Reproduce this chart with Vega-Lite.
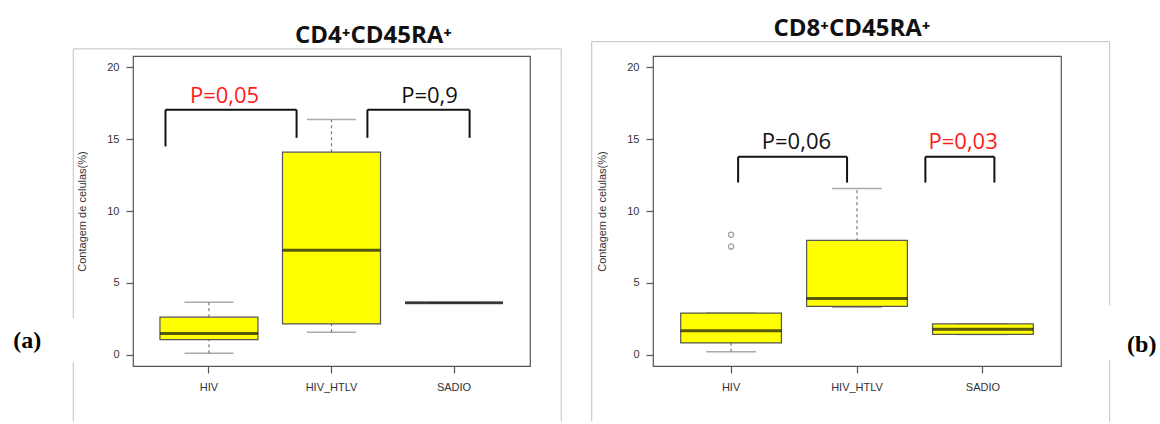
{
  "$schema": "https://vega.github.io/schema/vega-lite/v6.json",
  "padding": {"left": 12, "top": 16, "right": 0, "bottom": 0},
  "background": "white",
  "spacing": 27,
  "config": {
    "view": {"stroke": "#555555", "strokeWidth": 1.2},
    "font": "Liberation Sans",
    "axis": {"grid": false, "domain": false, "tickSize": 7, "tickColor": "#555555", "tickWidth": 1.2,
             "labelColor": "#333333", "labelFontSize": 11, "labelFont": "Liberation Sans",
             "titleFont": "Liberation Sans", "titleFontSize": 11, "titleFontWeight": "normal", "titleColor": "#333333"}
  },
  "datasets": {
    "boxA": [
      {"group": "HIV", "lower": 0.09, "q1": 1.04, "median": 1.46, "q3": 2.6, "upper": 3.64},
      {"group": "HIV_HTLV", "lower": 1.55, "q1": 2.13, "median": 7.27, "q3": 14.1, "upper": 16.37},
      {"group": "SADIO", "lower": 3.6, "q1": 3.6, "median": 3.6, "q3": 3.6, "upper": 3.6}
    ],
    "boxB": [
      {"group": "HIV", "lower": 0.19, "q1": 0.81, "median": 1.66, "q3": 2.89, "upper": 2.89},
      {"group": "HIV_HTLV", "lower": 3.3, "q1": 3.35, "median": 3.91, "q3": 7.95, "upper": 11.56},
      {"group": "SADIO", "lower": 1.4, "q1": 1.41, "median": 1.76, "q3": 2.13, "upper": 2.15}
    ],
    "outB": [
      {"group": "HIV", "value": 8.35},
      {"group": "HIV", "value": 7.52}
    ],
    "bracketA": [
      {"x": 0.645, "x2": 1.715, "y": 17.05, "y2": 17.05},
      {"x": 0.645, "x2": 0.645, "y": 17.05, "y2": 14.5},
      {"x": 1.715, "x2": 1.715, "y": 17.05, "y2": 15.1},
      {"x": 2.293, "x2": 3.127, "y": 17.05, "y2": 17.05},
      {"x": 2.293, "x2": 2.293, "y": 17.05, "y2": 15.1},
      {"x": 3.127, "x2": 3.127, "y": 17.05, "y2": 15.1}
    ],
    "bracketB": [
      {"x": 1.056, "x2": 1.921, "y": 13.78, "y2": 13.78},
      {"x": 1.056, "x2": 1.056, "y": 13.78, "y2": 11.98},
      {"x": 1.921, "x2": 1.921, "y": 13.78, "y2": 11.98},
      {"x": 2.543, "x2": 3.091, "y": 13.78, "y2": 13.78},
      {"x": 2.543, "x2": 2.543, "y": 13.78, "y2": 11.98},
      {"x": 3.091, "x2": 3.091, "y": 13.78, "y2": 11.98}
    ],
    "pA": [
      {"label": "P=0,05", "x": 1.127, "y": 18.0, "sig": "yes"},
      {"label": "P=0,9", "x": 2.8, "y": 18.0, "sig": "no"}
    ],
    "pB": [
      {"label": "P=0,06", "x": 1.519, "y": 14.8, "sig": "no"},
      {"label": "P=0,03", "x": 2.843, "y": 14.8, "sig": "yes"}
    ],
    "frameA": [
      {"x": -0.107, "x2": 3.875, "y": 21.3, "y2": 21.3},
      {"x": -0.107, "x2": -0.107, "y": 21.3, "y2": 2.53},
      {"x": -0.107, "x2": -0.107, "y": -0.53, "y2": -4.65},
      {"x": 3.875, "x2": 3.875, "y": 21.3, "y2": -4.65}
    ],
    "frameB": [
      {"x": -0.107, "x2": 4.006, "y": 21.8, "y2": 21.8},
      {"x": -0.107, "x2": -0.107, "y": 21.8, "y2": -4.67},
      {"x": 4.006, "x2": 4.006, "y": 21.8, "y2": 3.45},
      {"x": 4.006, "x2": 4.006, "y": -0.37, "y2": -4.67}
    ],
    "tagA": [{"label": "(a)", "x": -0.483, "y": 0.93}],
    "tagB": [{"label": "(b)", "x": 4.261, "y": 0.67}]
  },
  "hconcat": [
    {
      "width": 397,
      "height": 310,
      "title": {"text": "CD4⁺CD45RA⁺", "font": "Open Sans", "fontSize": 24, "fontWeight": "bold", "color": "#111111", "dx": 42, "frame": "group", "offset": 0},
      "resolve": {"scale": {"x": "independent"}},
      "layer": [
        {
          "data": {"name": "boxA"},
          "encoding": {
            "x": {"field": "group", "type": "nominal", "title": null,
                  "scale": {"type": "band", "paddingInner": 0.2, "paddingOuter": 0.22, "domain": ["HIV", "HIV_HTLV", "SADIO"]},
                  "axis": {"labelAngle": 0, "labelPadding": 8}},
            "y": {"type": "quantitative", "title": "Contagem de celulas(%)",
                  "scale": {"domain": [-0.8, 20.8], "nice": false, "zero": false},
                  "axis": {"values": [0, 5, 10, 15, 20], "labelPadding": 7, "titlePadding": 19}}
          },
          "layer": [
            {"mark": {"type": "rule", "color": "#777777", "strokeDash": [3, 3], "strokeWidth": 1.2},
             "encoding": {"y": {"field": "lower", "type": "quantitative", "title": "Contagem de celulas(%)"}, "y2": {"field": "upper"}}},
            {"mark": {"type": "tick", "color": "#888888", "size": 49, "thickness": 1.5},
             "encoding": {"y": {"field": "lower", "type": "quantitative", "title": "Contagem de celulas(%)"}}},
            {"mark": {"type": "tick", "color": "#888888", "size": 49, "thickness": 1.5},
             "encoding": {"y": {"field": "upper", "type": "quantitative", "title": "Contagem de celulas(%)"}}},
            {"mark": {"type": "bar", "color": "#ffff00", "stroke": "#555555", "strokeWidth": 1.2},
             "encoding": {"y": {"field": "q1", "type": "quantitative", "title": "Contagem de celulas(%)"}, "y2": {"field": "q3"}}},
            {"mark": {"type": "tick", "color": "#111111", "size": 98, "thickness": 3},
             "encoding": {"y": {"field": "median", "type": "quantitative", "title": "Contagem de celulas(%)"}}}
          ]
        },
        {
          "encoding": {
            "x": {"field": "x", "type": "quantitative", "scale": {"domain": [0.38, 3.62], "nice": false, "zero": false}, "axis": null},
            "y": {"field": "y", "type": "quantitative", "title": "Contagem de celulas(%)", "scale": {"domain": [-0.8, 20.8], "nice": false, "zero": false}}
          },
          "layer": [
            {"data": {"name": "frameA"}, "mark": {"type": "rule", "color": "#cccccc", "strokeWidth": 1.2},
             "encoding": {"x2": {"field": "x2"}, "y2": {"field": "y2"}}},
            {"data": {"name": "bracketA"}, "mark": {"type": "rule", "color": "#111111", "strokeWidth": 2},
             "encoding": {"x2": {"field": "x2"}, "y2": {"field": "y2"}}},
            {"data": {"name": "pA"}, "mark": {"type": "text", "font": "Open Sans", "fontSize": 22, "baseline": "middle", "align": "center"},
             "encoding": {"text": {"field": "label"},
                          "color": {"field": "sig", "type": "nominal", "scale": {"domain": ["yes", "no"], "range": ["#ff1a1a", "#111111"]}, "legend": null}}},
            {"data": {"name": "tagA"}, "mark": {"type": "text", "font": "Liberation Serif", "fontWeight": "bold", "fontSize": 24, "baseline": "middle", "align": "center", "color": "#000000"},
             "encoding": {"text": {"field": "label"}}}
          ]
        }
      ]
    },
    {
      "width": 408,
      "height": 310,
      "title": {"text": "CD8⁺CD45RA⁺", "font": "Open Sans", "fontSize": 24, "fontWeight": "bold", "color": "#111111", "dx": -5, "frame": "group", "offset": 0},
      "resolve": {"scale": {"x": "independent"}},
      "layer": [
        {
          "encoding": {
            "x": {"field": "group", "type": "nominal", "title": null,
                  "scale": {"type": "band", "paddingInner": 0.2, "paddingOuter": 0.22, "domain": ["HIV", "HIV_HTLV", "SADIO"]},
                  "axis": {"labelAngle": 0, "labelPadding": 8}},
            "y": {"type": "quantitative", "title": "Contagem de celulas(%)",
                  "scale": {"domain": [-0.8, 20.8], "nice": false, "zero": false},
                  "axis": {"values": [0, 5, 10, 15, 20], "labelPadding": 7, "titlePadding": 19}}
          },
          "layer": [
            {"data": {"name": "boxB"}, "mark": {"type": "rule", "color": "#777777", "strokeDash": [3, 3], "strokeWidth": 1.2},
             "encoding": {"y": {"field": "lower", "type": "quantitative", "title": "Contagem de celulas(%)"}, "y2": {"field": "upper"}}},
            {"data": {"name": "boxB"}, "mark": {"type": "tick", "color": "#888888", "size": 50, "thickness": 1.5},
             "encoding": {"y": {"field": "lower", "type": "quantitative", "title": "Contagem de celulas(%)"}}},
            {"data": {"name": "boxB"}, "mark": {"type": "tick", "color": "#888888", "size": 50, "thickness": 1.5},
             "encoding": {"y": {"field": "upper", "type": "quantitative", "title": "Contagem de celulas(%)"}}},
            {"data": {"name": "boxB"}, "mark": {"type": "bar", "color": "#ffff00", "stroke": "#555555", "strokeWidth": 1.2},
             "encoding": {"y": {"field": "q1", "type": "quantitative", "title": "Contagem de celulas(%)"}, "y2": {"field": "q3"}}},
            {"data": {"name": "boxB"}, "mark": {"type": "tick", "color": "#111111", "size": 101, "thickness": 3},
             "encoding": {"y": {"field": "median", "type": "quantitative", "title": "Contagem de celulas(%)"}}},
            {"data": {"name": "outB"}, "mark": {"type": "point", "shape": "circle", "filled": false, "color": "#777777", "size": 28, "strokeWidth": 1.3},
             "encoding": {"y": {"field": "value", "type": "quantitative", "title": "Contagem de celulas(%)"}}}
          ]
        },
        {
          "encoding": {
            "x": {"field": "x", "type": "quantitative", "scale": {"domain": [0.38, 3.62], "nice": false, "zero": false}, "axis": null},
            "y": {"field": "y", "type": "quantitative", "title": "Contagem de celulas(%)", "scale": {"domain": [-0.8, 20.8], "nice": false, "zero": false}}
          },
          "layer": [
            {"data": {"name": "frameB"}, "mark": {"type": "rule", "color": "#cccccc", "strokeWidth": 1.2},
             "encoding": {"x2": {"field": "x2"}, "y2": {"field": "y2"}}},
            {"data": {"name": "bracketB"}, "mark": {"type": "rule", "color": "#111111", "strokeWidth": 2},
             "encoding": {"x2": {"field": "x2"}, "y2": {"field": "y2"}}},
            {"data": {"name": "pB"}, "mark": {"type": "text", "font": "Open Sans", "fontSize": 22, "baseline": "middle", "align": "center"},
             "encoding": {"text": {"field": "label"},
                          "color": {"field": "sig", "type": "nominal", "scale": {"domain": ["yes", "no"], "range": ["#ff1a1a", "#111111"]}, "legend": null}}},
            {"data": {"name": "tagB"}, "mark": {"type": "text", "font": "Liberation Serif", "fontWeight": "bold", "fontSize": 24, "baseline": "middle", "align": "center", "color": "#000000"},
             "encoding": {"text": {"field": "label"}}}
          ]
        }
      ]
    }
  ]
}
